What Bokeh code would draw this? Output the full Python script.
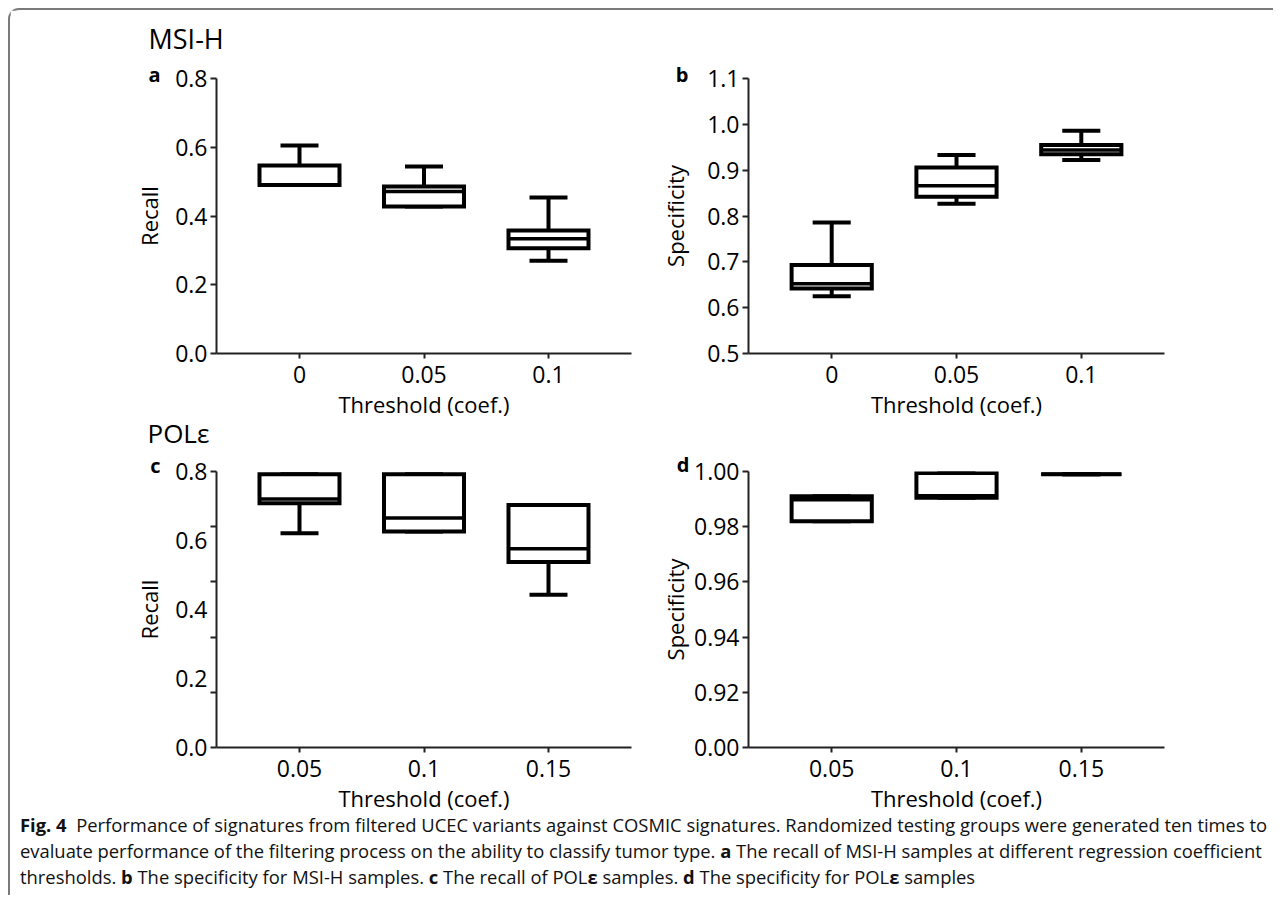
from bokeh.plotting import figure
from bokeh.layouts import column, row
from bokeh.models import Range1d, FixedTicker, Title, Div
from bokeh.embed import file_html
from bokeh.resources import INLINE

FONT = "Open Sans"

# ---------------- data ----------------
# Panel a: MSI-H recall
a_cats = ["0", "0.05", "0.1"]
a_wlo = [0.490, 0.428, 0.270]
a_q1 = [0.490, 0.428, 0.306]
a_med = [0.490, 0.471, 0.334]
a_q3 = [0.547, 0.486, 0.358]
a_whi = [0.605, 0.544, 0.454]
a_yticks = [0.0, 0.2, 0.4, 0.6, 0.8]
a_ylabels = ["0.0", "0.2", "0.4", "0.6", "0.8"]

# Panel b: MSI-H specificity
b_cats = ["0", "0.05", "0.1"]
b_wlo = [0.625, 0.827, 0.922]
b_q1 = [0.642, 0.842, 0.935]
b_med = [0.652, 0.866, 0.944]
b_q3 = [0.693, 0.906, 0.955]
b_whi = [0.786, 0.933, 0.986]
b_yticks = [0.5, 0.6, 0.7, 0.8, 0.9, 1.0, 1.1]
b_ylabels = ["0.5", "0.6", "0.7", "0.8", "0.9", "1.0", "1.1"]

# Panel c: POLe recall
c_cats = ["0.05", "0.1", "0.15"]
c_wlo = [0.621, 0.626, 0.443]
c_q1 = [0.708, 0.626, 0.538]
c_med = [0.720, 0.665, 0.576]
c_q3 = [0.792, 0.792, 0.703]
c_whi = [0.792, 0.792, 0.703]
c_yticks = [0.0, 0.2, 0.4, 0.6, 0.8]
c_ylabels = ["0.0", "0.2", "0.4", "0.6", "0.8"]
c_ytickmarks = [0.0, 0.16, 0.32, 0.48, 0.64, 0.8]

# Panel d: POLe specificity (broken axis: bottom tick labelled 0.00)
d_cats = ["0.05", "0.1", "0.15"]
d_wlo = [0.982, 0.9905, 0.999]
d_q1 = [0.982, 0.9905, 0.999]
d_med = [0.9898, 0.9912, 0.999]
d_q3 = [0.991, 0.9995, 0.999]
d_whi = [0.991, 0.9995, 0.999]
d_yticks = [0.90, 0.92, 0.94, 0.96, 0.98, 1.00]
d_ylabels = ["0.00", "0.92", "0.94", "0.96", "0.98", "1.00"]

X_LABEL = "Threshold (coef.)"

BOX_HALF = 0.3213
CAP_HALF = 0.1526
AXIS_COLOR = "#222222"


def make_panel(cats, wlo, q1, med, q3, whi, y0, y1, yticks, ylabels, ylabel,
               width, height, bl, br, bt, bb, ylabel_standoff, tickmarks=None):
    xs = [i + 1 for i in range(len(cats))]
    n = len(cats)
    p = figure(width=width, height=height,
               x_range=Range1d(1 - 0.6667, n + 0.6667),
               y_range=Range1d(y0, y1),
               output_backend="svg", toolbar_location=None,
               title_location=None,
               min_border_left=bl, min_border_right=br,
               min_border_top=bt, min_border_bottom=bb)
    p.xgrid.visible = False
    p.ygrid.visible = False
    p.outline_line_color = None
    p.background_fill_color = "white"
    p.border_fill_color = "white"

    # whiskers
    p.segment(x0=xs, x1=xs, y0=q3, y1=whi, line_color="black", line_width=4)
    p.segment(x0=xs, x1=xs, y0=q1, y1=wlo, line_color="black", line_width=4)
    p.segment(x0=[x - CAP_HALF for x in xs], x1=[x + CAP_HALF for x in xs],
              y0=whi, y1=whi, line_color="black", line_width=4)
    p.segment(x0=[x - CAP_HALF for x in xs], x1=[x + CAP_HALF for x in xs],
              y0=wlo, y1=wlo, line_color="black", line_width=4)
    # boxes
    p.quad(left=[x - BOX_HALF for x in xs], right=[x + BOX_HALF for x in xs],
           bottom=q1, top=q3, fill_color="white", line_color="black",
           line_width=4, line_join="miter")
    # medians
    p.segment(x0=[x - BOX_HALF for x in xs], x1=[x + BOX_HALF for x in xs],
              y0=med, y1=med, line_color="black", line_width=3.5)

    # x axis
    xa = p.xaxis[0]
    xa.ticker = FixedTicker(ticks=xs)
    xa.major_label_overrides = {x: c for x, c in zip(xs, cats)}
    xa.axis_label = X_LABEL
    xa.minor_tick_line_color = None
    xa.major_tick_out = 5
    xa.major_tick_in = 0
    xa.major_label_standoff = 7
    xa.axis_label_standoff = 3

    # y axis
    ya = p.yaxis[0]
    if tickmarks is not None:
        ya.ticker = FixedTicker(ticks=yticks, minor_ticks=tickmarks)
        ya.major_tick_out = 0
        ya.major_tick_in = 0
        ya.minor_tick_out = 6
        ya.minor_tick_in = 0
        ya.minor_tick_line_width = 2
        ya.minor_tick_line_color = AXIS_COLOR
    else:
        ya.ticker = FixedTicker(ticks=yticks)
        ya.major_tick_out = 6
        ya.major_tick_in = 0
        ya.minor_tick_line_color = None
    ya.major_label_overrides = {t: l for t, l in zip(yticks, ylabels)}
    ya.axis_label = ylabel
    ya.major_label_standoff = 3
    ya.axis_label_standoff = ylabel_standoff

    for ax in (xa, ya):
        ax.axis_line_color = AXIS_COLOR
        ax.axis_line_width = 2
        ax.major_tick_line_color = AXIS_COLOR
        ax.major_tick_line_width = 2
        ax.major_label_text_font = FONT
        ax.major_label_text_font_size = "23px"
        ax.major_label_text_color = "black"
        ax.axis_label_text_font = FONT
        ax.axis_label_text_font_size = "22px"
        ax.axis_label_text_font_style = "normal"
        ax.axis_label_text_color = "black"
    return p


def add_title(p, side, text, size, offset, valign, standoff, bold=False):
    p.add_layout(Title(text=text, align="left", offset=offset,
                       vertical_align=valign, standoff=standoff,
                       text_font=FONT, text_font_size=size,
                       text_font_style="bold" if bold else "normal",
                       text_color="black"), side)


pa = make_panel(a_cats, a_wlo, a_q1, a_med, a_q3, a_whi, 0.0, 0.8,
                a_yticks, a_ylabels, "Recall",
                630, 440, 206, 9, 68, 97, 8)
pb = make_panel(b_cats, b_wlo, b_q1, b_med, b_q3, b_whi, 0.5, 1.1,
                b_yticks, b_ylabels, "Specificity",
                633, 440, 108, 109, 68, 97, 14)
pc = make_panel(c_cats, c_wlo, c_q1, c_med, c_q3, c_whi, 0.0, 0.8,
                c_yticks, c_ylabels, "Recall",
                630, 367, 206, 9, 21, 70, 8, tickmarks=c_ytickmarks)
pd = make_panel(d_cats, d_wlo, d_q1, d_med, d_q3, d_whi, 0.90, 1.00,
                d_yticks, d_ylabels, "Specificity",
                633, 367, 108, 109, 21, 70, 1)

# panel letters (closest to the frame) and group titles
add_title(pa, "above", "a", "20px", -68, "bottom", -18.7, bold=True)
add_title(pa, "above", "MSI-H", "27px", -68, "top", 19.2)
add_title(pb, "above", "b", "20px", -72.7, "bottom", -19.1, bold=True)
add_title(pa, "below", "POL\u03b5", "26px", -69, "top", -14)
add_title(pc, "above", "c", "20px", -66.3, "bottom", -14.3, bold=True)
add_title(pd, "above", "d", "20px", -71.7, "bottom", -13.1, bold=True)

caption_html = (
    "<div style=\"font-family:'Open Sans';font-size:18.4px;line-height:26px;"
    "white-space:nowrap;color:#111;padding-left:10px;position:relative;top:-5px;\">"
    "<b>Fig.&nbsp;4</b>&nbsp;&nbsp;Performance of signatures from filtered UCEC variants against "
    "COSMIC signatures. Randomized testing groups were generated ten times to<br>"
    "evaluate performance of the filtering process on the ability to classify tumor type. "
    "<b>a</b> The recall of MSI-H samples at different regression coefficient<br>"
    "thresholds. <b>b</b> The specificity for MSI-H samples. <b>c</b> The recall of "
    "POL<b>\u03b5</b> samples. <b>d</b> The specificity for POL<b>\u03b5</b> samples"
    "</div>"
)
caption = Div(text=caption_html, width=1263, height=78, margin=0)

layout = column(
    row(pa, pb),
    row(pc, pd),
    caption,
    margin=(8, 0, 0, 8),
    styles={
        "border-top": "2px solid #7a7a7a",
        "border-left": "2px solid #7a7a7a",
        "border-top-left-radius": "11px",
    },
)

open("out.html", "w").write(file_html(layout, INLINE))
